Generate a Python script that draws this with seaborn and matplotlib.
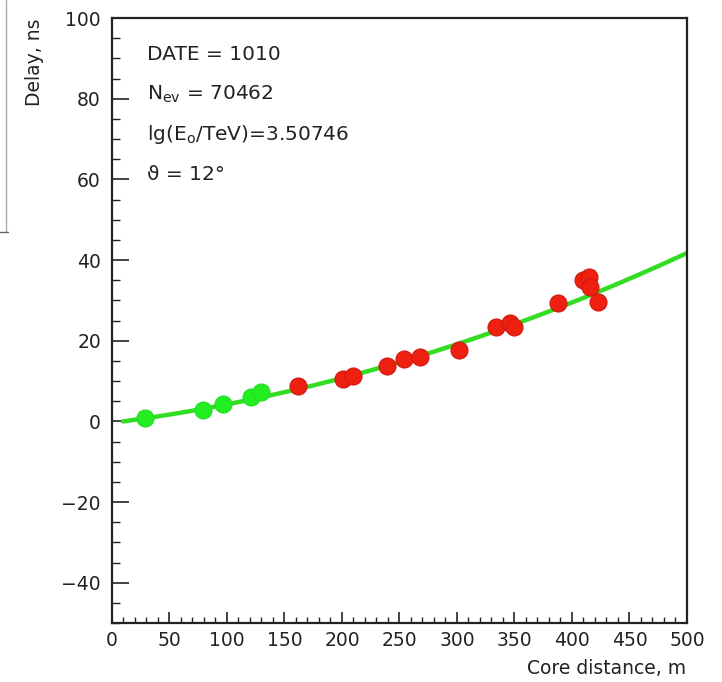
import numpy as np
import pandas as pd
import matplotlib
matplotlib.use("Agg")
import matplotlib.pyplot as plt
import seaborn as sns
from matplotlib.ticker import MultipleLocator

# ---- data ----
green_x = [29, 79, 96.5, 121, 130]
green_y = [0.8, 2.7, 4.2, 6.0, 7.2]
red_x = [162, 201, 210, 239, 254, 268, 302, 334, 346, 350, 388, 410, 415, 416, 423]
red_y = [8.7, 10.4, 11.2, 13.6, 15.4, 15.9, 17.6, 23.3, 24.5, 23.3, 29.3, 35.0, 35.7, 33.2, 29.5]

# fitted curve y = c0 + c1*x + c2*x^2 (coefficients)
fit_c0, fit_c1, fit_c2 = -0.37, 0.0362, 9.6e-5
fit_xmin, fit_xmax = 9.5, 500

info_lines = [r"DATE = 1010",
              r"N$_{\rm ev}$ = 70462",
              r"lg(E$_{\rm o}$/TeV)=3.50746",
              "\u03d1 = 12\u00b0"]

x_ticks = list(range(0, 501, 50))
y_ticks = list(range(-40, 101, 20))

sns.set_theme(style="white")
plt.rcParams["font.family"] = ["DejaVu Sans"]
plt.rcParams["mathtext.fontset"] = "dejavusans"

fig = plt.figure(figsize=(7.22, 6.82), dpi=100)
ax = fig.add_axes([112/722, 1-623/682, (687-112)/722, (623-18)/682])

xf = np.linspace(fit_xmin, fit_xmax, 300)
yf = fit_c0 + fit_c1*xf + fit_c2*xf**2
sns.lineplot(x=xf, y=yf, ax=ax, color="#33dd22", lw=3.2, zorder=2)

df_g = pd.DataFrame({"x": green_x, "y": green_y})
df_r = pd.DataFrame({"x": red_x, "y": red_y})
sns.scatterplot(data=df_g, x="x", y="y", ax=ax, color="#22ee22", edgecolor="#22dd22",
                s=150, linewidth=0.8, zorder=3)
sns.scatterplot(data=df_r, x="x", y="y", ax=ax, color="#f02010", edgecolor="#cc1a10",
                s=150, linewidth=0.8, zorder=3)

ax.set_xlim(0, 500)
ax.set_ylim(-50, 100)
ax.set_xticks(x_ticks)
ax.set_yticks(y_ticks)
ax.set_xticklabels([str(v) for v in x_ticks])
ax.set_yticklabels([str(v).replace("-", "\u2212") for v in y_ticks])
ax.xaxis.set_minor_locator(MultipleLocator(10))
ax.yaxis.set_minor_locator(MultipleLocator(5))
ax.tick_params(axis="both", which="both", direction="in", top=False, right=False,
               bottom=True, left=True,
               colors="#222222", labelcolor="#222222", labelsize=13.5)
ax.tick_params(axis="x", which="major", length=8, width=1.2, pad=6)
ax.tick_params(axis="x", which="minor", length=4, width=1.0)
ax.tick_params(axis="y", which="major", length=12, width=1.2, pad=8)
ax.tick_params(axis="y", which="minor", length=6, width=1.0)
for sp in ax.spines.values():
    sp.set_visible(True)
    sp.set_color("#222222")
    sp.set_linewidth(1.6)

ax.set_xlabel("")
ax.set_ylabel("")
fig.text(686/722, 1-668/682, "Core distance, m", ha="right", va="center", fontsize=13.5, color="#222222")
fig.text(35/722, 1-18/682, "Delay, ns", ha="center", va="top", rotation=90, fontsize=13.5, color="#222222")

for i, t in enumerate(info_lines):
    fig.text(147/722, 1-(60+40*i)/682, t, ha="left", va="baseline", fontsize=14.5, color="#222222")

# cropped-frame artifact at the left edge
fig.add_artist(plt.Line2D([6/722, 6/722], [1.0, 1-232/682], color="#aaaaaa", lw=1.0))
fig.add_artist(plt.Line2D([0, 8/722], [1-232/682, 1-232/682], color="#666666", lw=1.0))

fig.savefig("out.png", dpi=100, facecolor="white")
